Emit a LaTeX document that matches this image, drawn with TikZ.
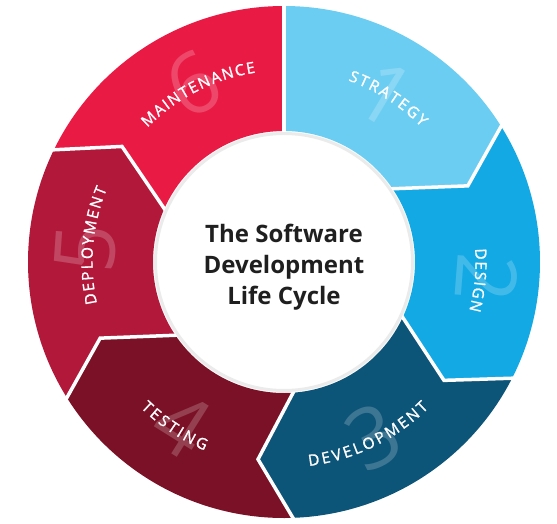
\documentclass[tikz,border=0pt]{standalone}
\usepackage{fontspec}
\setmainfont{Open Sans}
\newfontfamily\phasefam[FakeBold=1.2]{Open Sans}
\usetikzlibrary{decorations.text}
\definecolor{strategyblue}{HTML}{6CCDF2}
\definecolor{designblue}{HTML}{12A9E5}
\definecolor{devblue}{HTML}{0C5478}
\definecolor{testred}{HTML}{7B1126}
\definecolor{deployred}{HTML}{B2183A}
\definecolor{maintred}{HTML}{E91A44}
\newcommand{\phasefont}{\phasefam\fontsize{15.5}{15.5}\selectfont}
\tikzset{
	gapline/.style={white,line width=3.5pt,line cap=rect},
	phaselabel/.style={decorate,decoration={text along path,text={|\phasefont|#1},text align=fit to path,text color=white}},
	bignum/.style={text=white,text opacity=0.2,font=\fontsize{84}{84}\selectfont},
}
\begin{document}
\begin{tikzpicture}[x=1pt,y=1pt]
				\useasboundingbox (-284,-261) rectangle (273,262);
				% the six phases, clockwise from the top
				\fill[strategyblue] (90:256) arc[start angle=90,end angle=32,radius=256] -- (22.5:199) -- (34:131) arc[start angle=34,end angle=90,radius=131] -- cycle;
				\fill[designblue] (32:256) arc[start angle=32,end angle=-27,radius=256] -- (-36.5:199) -- (-25:131) arc[start angle=-25,end angle=34,radius=131] -- (22.5:199) -- cycle;
				\fill[devblue] (-27:256) arc[start angle=-27,end angle=-88,radius=256] -- (-97.5:199) -- (-86:131) arc[start angle=-86,end angle=-25,radius=131] -- (-36.5:199) -- cycle;
				\fill[testred] (-88:256) arc[start angle=-88,end angle=-148,radius=256] -- (-157.5:199) -- (-146:131) arc[start angle=-146,end angle=-86,radius=131] -- (-97.5:199) -- cycle;
				\fill[deployred] (-148:256) arc[start angle=-148,end angle=-206,radius=256] -- (-215.5:199) -- (-204:131) arc[start angle=-204,end angle=-146,radius=131] -- (-157.5:199) -- cycle;
				\fill[maintred] (-206:256) arc[start angle=-206,end angle=-270,radius=256] -- (-270:131) arc[start angle=-270,end angle=-204,radius=131] -- (-215.5:199) -- cycle;
				% white gaps between the phases
				\draw[gapline] (90:131) -- (90:256);
				\draw[gapline] (34:131) -- (22.5:199) -- (32:256);
				\draw[gapline] (-25:131) -- (-36.5:199) -- (-27:256);
				\draw[gapline] (-86:131) -- (-97.5:199) -- (-88:256);
				\draw[gapline] (-146:131) -- (-157.5:199) -- (-148:256);
				\draw[gapline] (-204:131) -- (-215.5:199) -- (-206:256);
				% faint step numbers
				\node[bignum,rotate=-31] (num1) at (58.7:196) {1};
				\node[bignum,rotate=-94.5] (num2) at (-4.5:204) {2};
				\node[bignum,rotate=27] (num3) at (-63:196) {3};
				\node[bignum,rotate=-32] (num4) at (238:192) {4};
				\node[bignum,rotate=86] (num5) at (176:199) {5};
				\node[bignum,rotate=27] (num6) at (117:200) {6};
				% phase names
				\path[phaselabel=STRATEGY] (70.5:192.5) arc[start angle=70.5,end angle=44.5,radius=192.5];
				\path[phaselabel=DESIGN] (4:191.5) arc[start angle=4,end angle=-14.7,radius=191.5];
				\path[phaselabel=DEVELOPMENT] (-83:205.5) arc[start angle=-83,end angle=-45.2,radius=205.5];
				\path[phaselabel=TESTING] (225.5:204.5) arc[start angle=225.5,end angle=247.2,radius=204.5];
				\path[phaselabel=DEPLOYMENT] (192.5:191.5) arc[start angle=192.5,end angle=157.5,radius=191.5];
				\path[phaselabel=MAINTENANCE] (135.5:191.5) arc[start angle=135.5,end angle=98.5,radius=191.5];
				% centre
				\draw[fill=white,draw=black!8,line width=3pt] (0,0) circle (128.5);
				\node[font=\fontsize{24}{31}\selectfont\bfseries,align=center,text=black!88] (title) at (0,-5) {The Software\\Development\\Life Cycle};
			\end{tikzpicture}
\end{document}
